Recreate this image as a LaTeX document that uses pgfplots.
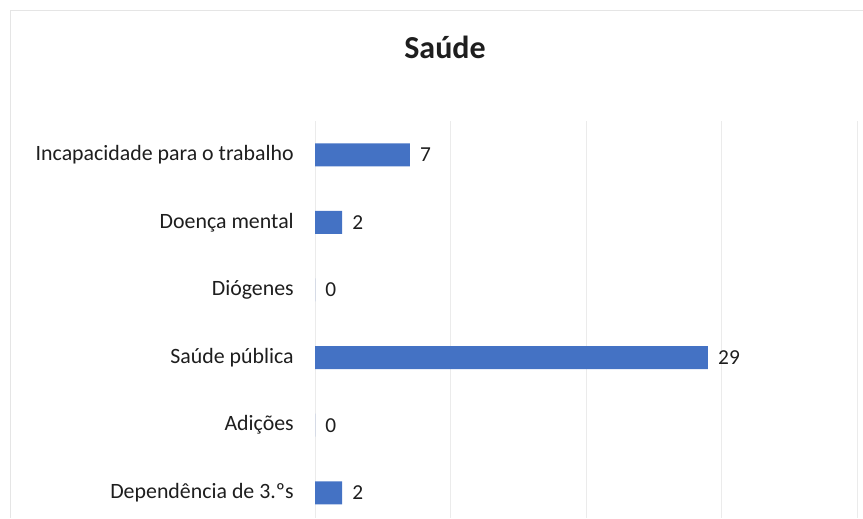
\documentclass[border=0pt]{standalone}
\usepackage{fontspec}
\setmainfont{Carlito}
\usepackage{pgfplots}
\pgfplotsset{compat=1.18}
\definecolor{barblue}{HTML}{4472C4}
\definecolor{txt}{HTML}{1E1E1E}
\begin{document}
\begin{tikzpicture}
\path[use as bounding box] (0,0) rectangle (647.25pt,388.5pt);
\draw[black!10, line width=0.75pt] (7.5pt,0) -- (7.5pt,380.25pt) -- (647.25pt,380.25pt);
\node[anchor=base, font=\fontsize{24}{28}\selectfont\bfseries, text=txt, inner sep=0pt] at (333.75pt,344.25pt) {Saúde};
\begin{axis}[
  at={(236.25pt,0pt)}, anchor=south west,
  width=406.5pt, height=297.75pt, scale only axis,
  xbar, bar width=17.25pt,
  xmin=0, xmax=40, ymin=-0.5, ymax=5.373, y dir=reverse,
  xtick={0,10,20,30,40}, xticklabels={},
  xmajorgrids, major grid style={black!8, line width=0.75pt},
  ytick={0,1,2,3,4,5},
  yticklabels={Incapacidade para o trabalho, Doença mental, Diógenes, Saúde pública, Adições, Dependência de 3.ºs},
  major tick length=0pt,
  axis line style={draw=none},
  yticklabel style={font=\fontsize{16.4}{19}\selectfont, text=txt, anchor=east, inner sep=0pt, xshift=-15.75pt},
  /pgf/number format/assume math mode=true,
  nodes near coords,
  nodes near coords style={font=\fontsize{16}{19}\selectfont, text=txt, anchor=west, inner sep=0pt, xshift=7.5pt},
]
\addplot[fill=barblue, draw=none] coordinates {(7,0) (2,1) (0,2) (29,3) (0,4) (2,5)};
\end{axis}
\end{tikzpicture}
\end{document}
